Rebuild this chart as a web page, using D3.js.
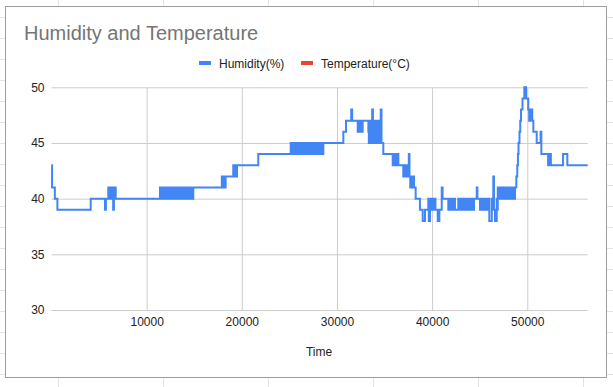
<!DOCTYPE html>
<html>
<head>
<meta charset="utf-8">
<script src="https://cdn.jsdelivr.net/npm/d3@7"></script>
<style>
  body { margin: 0; background: #fff; }
  svg { display: block; font-family: "Liberation Sans", Arial, sans-serif; }
</style>
</head>
<body>
<svg id="chart" width="613" height="387"></svg>
<script>
// series names shown in the legend
var seriesNames = ["Humidity(%)", "Temperature(°C)"];

// humidity readings: [time, %] at each change of value
var humidity = [
  [0,43],[60,41],[350,40],[620,39],[4120,40],[5620,39],[5720,40],
  [5970,41],[6080,40],[6150,41],[6250,40],[6320,41],[6480,39],[6560,41],[6650,40],[6700,41],[6750,40],
  [11400,41],[11500,40],[11600,41],[11700,40],[11800,41],[11900,40],[12000,41],[12050,40],
  [12250,41],[12350,40],[12450,41],[12550,40],[12650,41],[12750,40],[12850,41],[12950,40],[13050,41],
  [13150,40],[13250,41],[13350,40],[13450,41],[13550,40],[13650,41],[13750,40],[13800,41],
  [14000,40],[14100,41],[14200,40],[14300,41],[14400,40],[14500,41],[14600,40],[14700,41],[14800,40],
  [14900,41],
  [17900,42],[18000,41],[18100,42],[18200,41],[18300,42],
  [19100,43],[19200,42],[19300,43],[19400,42],[19500,43],
  [21730,44],
  [25140,45],[25250,44],[25350,45],[25450,44],[25550,45],[25600,44],
  [25800,45],[25900,44],[26000,45],
  [26200,44],[26300,45],[26400,44],[26500,45],[26600,44],[26700,45],[26800,44],
  [27000,45],[27100,44],[27200,45],[27300,44],[27350,45],
  [27500,44],[27600,45],[27700,44],[27800,45],[27900,44],[28000,45],[28050,44],
  [28200,45],[28300,44],[28400,45],[28500,44],[28570,45],
  [30670,46],[30950,47],[31500,48],[31600,47],[32180,46],[32250,47],[32450,46],[32500,47],[32600,46],
  [32700,47],[33300,46],[33350,45],[33400,47],[33450,45],[33500,46],[33550,45],[33650,47],[33700,48],
  [33780,45],[33850,47],[33900,45],[33950,46],[34000,45],[34050,47],[34100,45],[34150,46],[34200,45],
  [34250,47],[34300,45],[34350,46],[34400,45],[34500,47],[34550,45],[34600,48],[34680,45],
  [34870,44],[35860,43],[35950,44],[36050,43],[36150,44],[36250,43],[36350,44],[36450,43],
  [36970,42],[37100,43],[37200,42],[37300,43],[37450,42],[37550,44],[37620,42],[37700,41],[37800,42],
  [37900,41],[38000,42],[38100,41],[38270,40],
  [38720,39],[39010,38],[39250,39],[39600,40],[39650,38],[39780,39],[39850,40],[39950,39],[40050,40],
  [40150,39],[40300,40],[40350,39],[40590,38],[40760,39],[41010,41],[41100,40],
  [41700,39],[41800,40],[41900,39],[42000,40],[42100,39],[42200,40],[42400,39],[42750,40],[42900,39],
  [43000,40],[43100,39],[43200,40],[43300,39],[43400,40],[43500,39],[43600,40],[43700,39],[43800,40],
  [43900,39],[44000,40],[44100,39],[44200,40],[44300,39],[44400,40],[44690,41],[44760,40],
  [45030,39],[45100,40],[45200,39],[45300,40],[45400,39],[45500,40],[45600,39],[45700,40],[45800,39],
  [45900,40],[46010,38],[46270,40],[46350,39],[46430,42],[46500,39],[46610,38],[46790,40],[46850,39],
  [46900,41],[47000,40],[47100,41],[47200,40],[47300,41],[47400,40],[47500,41],[47600,40],[47700,41],
  [47800,40],[47900,41],[48000,40],[48100,41],[48200,40],[48300,41],[48400,40],[48500,41],[48600,40],
  [48710,41],[48850,42],[48950,43],[49020,44],[49080,45],[49180,46],[49260,47],[49340,48],[49500,49],
  [49690,50],[49870,49],[50100,48],[50200,47],[50280,48],[50360,47],[50450,48],[50520,47],[50640,46],
  [50990,45],[51400,46],[51480,44],[52190,43],[52250,44],[52320,43],[52400,44],[52480,43],
  [53760,44],[54210,43],[56350,43]
];

// temperature has no readings in this range
var temperature = [];

var xTicks = [10000, 20000, 30000, 40000, 50000];
var yTicks = [30, 35, 40, 45, 50];

var svg = d3.select("#chart");

// spreadsheet cells behind the chart
var sheet = svg.append("g").attr("stroke", "#e2e3e3").attr("stroke-width", 1);
[58.5, 163.5, 268.5, 373.5, 478.5, 583.5].forEach(function (x) {
  sheet.append("line").attr("x1", x).attr("x2", x).attr("y1", 0).attr("y2", 387);
});
d3.range(17.5, 387, 21).forEach(function (y) {
  sheet.append("line").attr("x1", 0).attr("x2", 613).attr("y1", y).attr("y2", y);
});

// chart box
svg.append("rect")
  .attr("x", 5.5).attr("y", 6.5)
  .attr("width", 601).attr("height", 371)
  .attr("fill", "#fff")
  .attr("stroke", "#9e9e9e");

svg.append("text")
  .attr("x", 24).attr("y", 40)
  .attr("font-size", 20)
  .attr("fill", "#757575")
  .text("Humidity and Temperature");

var plotLeft = 51.5, plotRight = 587.7, plotTop = 87.3, plotBottom = 310;

var x = d3.scaleLinear()
  .domain(d3.extent(humidity, function (d) { return d[0]; }))
  .range([plotLeft, plotRight]);

var y = d3.scaleLinear()
  .domain([30, 50])
  .range([plotBottom, plotTop]);

// y axis + horizontal grid
var yAxis = svg.append("g")
  .attr("transform", "translate(" + plotLeft + ",0)")
  .call(d3.axisLeft(y).tickValues(yTicks).tickSize(-(plotRight - plotLeft)).tickPadding(7));

// x axis + vertical grid
var xAxis = svg.append("g")
  .attr("transform", "translate(0," + plotBottom + ")")
  .call(d3.axisBottom(x).tickValues(xTicks).tickSize(-(plotBottom - plotTop)).tickPadding(7).tickFormat(d3.format("d")));

[xAxis, yAxis].forEach(function (g) {
  g.select(".domain").remove();
  g.selectAll(".tick line").attr("stroke", "#cccccc");
  g.selectAll(".tick text")
    .attr("fill", "#222")
    .style("font-size", "12px")
    .style("font-family", "'Liberation Sans', Arial, sans-serif");
});

var line = d3.line()
  .x(function (d) { return x(d[0]); })
  .y(function (d) { return y(d[1]); })
  .curve(d3.curveStepAfter);

svg.append("path")
  .datum(humidity)
  .attr("fill", "none")
  .attr("stroke", "#4285f4")
  .attr("stroke-width", 2)
  .attr("d", line);

svg.append("path")
  .datum(temperature)
  .attr("fill", "none")
  .attr("stroke", "#ea4335")
  .attr("stroke-width", 2)
  .attr("d", line);

// legend
var legendColors = ["#4285f4", "#ea4335"];
var legendX = [199, 301];
seriesNames.forEach(function (name, i) {
  svg.append("rect")
    .attr("x", legendX[i]).attr("y", 61)
    .attr("width", 12).attr("height", 4)
    .attr("fill", legendColors[i]);
  svg.append("text")
    .attr("x", legendX[i] + 20).attr("y", 67.5)
    .attr("font-size", 12)
    .attr("fill", "#222")
    .text(name);
});

svg.append("text")
  .attr("x", 319).attr("y", 356)
  .attr("text-anchor", "middle")
  .attr("font-size", 12)
  .attr("fill", "#222")
  .text("Time");
</script>
</body>
</html>
